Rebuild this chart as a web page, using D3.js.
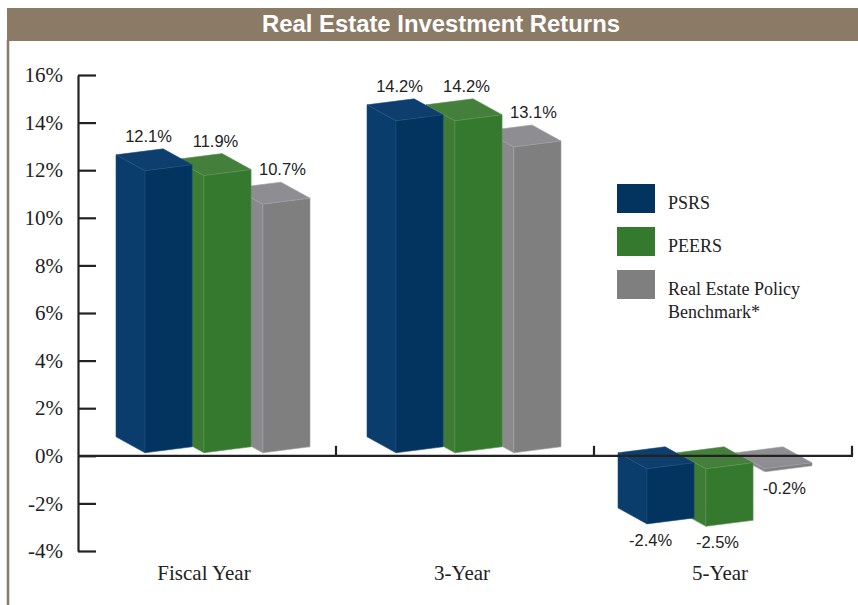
<!DOCTYPE html>
<html>
<head>
<meta charset="utf-8">
<script src="https://cdn.jsdelivr.net/npm/d3@7"></script>
<style>
  body { margin: 0; background: #fff; }
  svg { display: block; }
  .serif { font-family: 'Liberation Serif', 'Times New Roman', serif; }
</style>
</head>
<body>
<div id="chart"></div>
<script>
(function(){

    // data
    var categories = ["Fiscal Year", "3-Year", "5-Year"];
    var series = ["PSRS", "PEERS", "Real Estate Policy Benchmark*"];
    var psrs = [12.1, 14.2, -2.4];
    var peers = [11.9, 14.2, -2.5];
    var benchmark = [10.7, 13.1, -0.2];
    var yTicks = [-4, -2, 0, 2, 4, 6, 8, 10, 12, 14, 16];

    var values = [psrs, peers, benchmark];

    // colours per series: front, side, top
    var colors = [
        {front: "#03335f", side: "#0a3c6c", top: "#0d3e6e", edge: "#1d4f80"},
        {front: "#35792e", side: "#3e7c35", top: "#447f3b", edge: "#5a9450"},
        {front: "#7f7f80", side: "#8a8a8c", top: "#8e8e92", edge: "#a0a0a2"}
    ];

    var width = 858, height = 605;
    var svg = d3.select("#chart").append("svg")
        .attr("width", width)
        .attr("height", height);

    // title bar
    svg.append("rect")
        .attr("x", 7).attr("y", 8)
        .attr("width", width - 7).attr("height", 33)
        .attr("fill", "#8b7a66");
    svg.append("line")
        .attr("x1", 8).attr("x2", 8)
        .attr("y1", 40).attr("y2", height)
        .attr("stroke", "#8b7a66")
        .attr("stroke-width", 2.5);
    svg.append("text")
        .attr("x", 441).attr("y", 32)
        .attr("text-anchor", "middle")
        .attr("font-family", "'Liberation Sans Narrow', 'Liberation Sans', Arial, sans-serif")
        .attr("font-weight", "bold")
        .attr("font-size", "23px")
        .attr("fill", "#fff")
        .attr("textLength", 358)
        .attr("lengthAdjust", "spacingAndGlyphs")
        .text("Real Estate Investment Returns");

    // scales
    var y = d3.scaleLinear().domain([-4, 16]).range([551, 75]);
    var x0 = d3.scaleBand().domain(categories).range([78, 852]);
    var xg = d3.scaleBand().domain(categories).range([145, 145 + 3 * 251]);
    var x1 = d3.scaleBand().domain(d3.range(series.length)).range([0, 165]).paddingInner(0.2);

    // 3d look
    var dx = 29, dy = 16, s = 6;

    function quad(p){ return "M" + p.map(function(q){ return q[0] + "," + q[1]; }).join("L") + "Z"; }

    var bars = svg.append("g");
    categories.forEach(function(cat, ci){
        // right to left so the front bars cover the side faces behind them
        for (var si = series.length - 1; si >= 0; si--) {
            var v = values[si][ci];
            var c = colors[si];
            var fl = xg(cat) + x1(si);
            var fr = fl + x1.bandwidth();
            var ft, fb;
            if (v >= 0) {
                ft = y(v);
                fb = y(0) - 6;
            } else {
                // negative bars: back face hangs from the axis, front sits lower
                var bt = y(0) - 6;
                var bb = Math.max(y(v) - 8, bt + 3);
                ft = bt + dy;
                fb = bb + dy;
            }
            var front = [[fl, ft + s/2], [fr, ft - s/2], [fr, fb - s/2], [fl, fb + s/2]];
            var back = front.map(function(p){ return [p[0] - dx, p[1] - dy]; });
            var side = [back[0], front[0], front[3], back[3]];
            var top = [back[0], back[1], front[1], front[0]];

            bars.append("path").attr("d", quad(side))
                .attr("fill", c.side).attr("stroke", c.edge).attr("stroke-width", 0.6);
            bars.append("path").attr("d", quad(top))
                .attr("fill", c.top).attr("stroke", c.edge).attr("stroke-width", 0.6);
            bars.append("path").attr("d", quad(front))
                .attr("fill", c.front).attr("stroke", c.edge).attr("stroke-width", 0.6);
        }
    });

    // value labels
    var labels = svg.append("g")
        .style("font-family", "'Liberation Sans', Arial, sans-serif")
        .style("font-size", "16.5px")
        .attr("fill", "#222")
        .attr("text-anchor", "middle");
    categories.forEach(function(cat, ci){
        series.forEach(function(ser, si){
            var v = values[si][ci];
            var lx = xg(cat) + x1(si) + x1.bandwidth() / 2 - 20 + si * 8;
            var ly = v >= 0 ? y(v) - 26 : y(v) + 33;
            labels.append("text")
                .attr("x", lx).attr("y", ly)
                .text(v.toFixed(1) + "%");
        });
    });

    // y axis
    var yAxis = svg.append("g")
        .attr("transform", "translate(78,0)")
        .call(d3.axisLeft(y)
            .tickValues(yTicks)
            .tickSizeInner(-18)
            .tickSizeOuter(0)
            .tickPadding(15)
            .tickFormat(function(d){ return d + "%"; }));
    yAxis.selectAll("path, line").attr("stroke", "#222").attr("stroke-width", 2.2);
    yAxis.selectAll("text")
        .attr("class", "serif")
        .style("font-family", "'Liberation Serif', 'Times New Roman', serif")
        .style("font-size", "21px")
        .attr("fill", "#222");

    // x axis
    var xAxis = svg.append("g");
    xAxis.append("line")
        .attr("x1", 78).attr("x2", 853)
        .attr("y1", y(0)).attr("y2", y(0))
        .attr("stroke", "#222").attr("stroke-width", 2.2);
    xAxis.selectAll(".tick")
        .data(categories).enter().append("line")
        .attr("x1", function(d){ return x0(d) + x0.bandwidth(); })
        .attr("x2", function(d){ return x0(d) + x0.bandwidth(); })
        .attr("y1", y(0)).attr("y2", y(0) - 10)
        .attr("stroke", "#222").attr("stroke-width", 2.2);
    xAxis.selectAll(".cat")
        .data(categories).enter().append("text")
        .attr("x", function(d){ return x0(d) + x0.bandwidth() / 2 - 3; })
        .attr("y", 580)
        .attr("text-anchor", "middle")
        .style("font-family", "'Liberation Serif', 'Times New Roman', serif")
        .style("font-size", "21px")
        .attr("fill", "#222")
        .text(function(d){ return d; });

    // legend
    var legend = svg.append("g").attr("transform", "translate(617,184)");
    series.forEach(function(ser, si){
        var g = legend.append("g").attr("transform", "translate(0," + (si * 43) + ")");
        g.append("rect")
            .attr("width", 38).attr("height", 29)
            .attr("fill", colors[si].front);
        var t = g.append("text")
            .attr("x", 51).attr("y", 25)
            .style("font-family", "'Liberation Serif', 'Times New Roman', serif")
            .style("font-size", "18px")
            .attr("fill", "#222");
        if (si == 2) {
            t.append("tspan").attr("x", 51).text("Real Estate Policy");
            t.append("tspan").attr("x", 51).attr("dy", 23).text("Benchmark*");
        } else {
            t.text(ser);
        }
    });

})();
</script>
</body>
</html>
